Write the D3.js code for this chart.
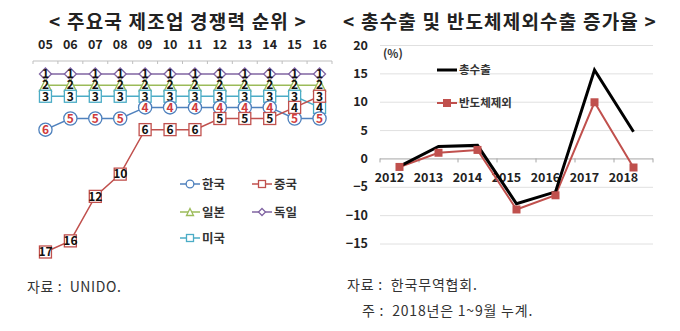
<!DOCTYPE html>
<html>
<head>
<meta charset="utf-8">
<script src="https://cdn.jsdelivr.net/npm/d3@7"></script>
<style>
  html, body { margin: 0; padding: 0; background: #fff; }
  svg { display: block; }
  text { font-family: "Noto Sans CJK KR", "Noto Sans", sans-serif; }
</style>
</head>
<body>
<svg id="chart" width="680" height="331"></svg>
<script>
// ---- Left panel: manufacturing competitiveness rank ----
const rankYears = ['05','06','07','08','09','10','11','12','13','14','15','16'];
const rankKorea   = [6,5,5,5,4,4,4,4,4,4,5,5];
const rankChina   = [17,16,12,10,6,6,6,5,5,5,4,3];
const rankJapan   = [2,2,2,2,2,2,2,2,2,2,2,2];
const rankGermany = [1,1,1,1,1,1,1,1,1,1,1,1];
const rankUSA     = [3,3,3,3,3,3,3,3,3,3,3,4];

// ---- Right panel: export growth rate (%) ----
const expYears = ['2012','2013','2014','2015','2016','2017','2018'];
const totalExport = [-1.4, 2.1, 2.3, -8.0, -5.9, 15.6, 4.7];
const exSemiconductor = [-1.5, 1.0, 1.5, -9.0, -6.5, 9.9, -1.6];
const yTicks = [20, 15, 10, 5, 0, -5, -10, -15];

const svg = d3.select('#chart');

// Titles
svg.append('text').attr('x', 178).attr('y', 29).attr('text-anchor', 'middle')
  .attr('font-size', 19).attr('font-weight', 700).attr('fill', '#222')
  .attr('letter-spacing', 1.2)
  .text('< 주요국 제조업 경쟁력 순위 >');
svg.append('text').attr('x', 500).attr('y', 29).attr('text-anchor', 'middle')
  .attr('font-size', 19).attr('font-weight', 700).attr('fill', '#222')
  .attr('letter-spacing', 1.2)
  .text('< 총수출 및 반도체제외수출 증가율 >');

// ================= Left panel =================
const xR = d3.scaleBand().domain(rankYears).range([33, 332]);
const yR = d3.scaleLinear().domain([1, 17]).range([74, 252]);
const cx = d => xR(d) + xR.bandwidth() / 2;

// top axis with year labels
const topAxis = svg.append('g').attr('transform', 'translate(0,61)');
topAxis.append('line').attr('x1', 33).attr('x2', 332).attr('stroke', '#bfbfbf');
topAxis.selectAll('line.tk').data(d3.range(rankYears.length + 1)).join('line')
  .attr('class', 'tk')
  .attr('x1', i => 33 + i * xR.step()).attr('x2', i => 33 + i * xR.step())
  .attr('y1', 0).attr('y2', 3).attr('stroke', '#bfbfbf');
svg.selectAll('text.yr').data(rankYears).join('text').attr('class', 'yr')
  .attr('x', d => cx(d)).attr('y', 49).attr('text-anchor', 'middle')
  .attr('font-size', 12.5).attr('font-weight', 700).attr('fill', '#222')
  .text(d => d);

const rankSeries = [
  { name: '독일', values: rankGermany, color: '#8064a2', shape: 'diamond', txt: '#111' },
  { name: '일본', values: rankJapan, color: '#9bbb59', shape: 'triangle', txt: '#111' },
  { name: '미국', values: rankUSA, color: '#4bacc6', shape: 'square', txt: '#111' },
  { name: '한국', values: rankKorea, color: '#4f81bd', shape: 'circle', txt: '#d03a3a' },
  { name: '중국', values: rankChina, color: '#c0504d', shape: 'square', txt: '#111' }
];

const rankLine = d3.line().x(d => cx(d.year)).y(d => yR(d.rank));

function drawMarker(g, shape, color, size) {
  const s = size;
  if (shape === 'circle') {
    g.append('circle').attr('r', s * 0.55).attr('fill', '#fff').attr('stroke', color).attr('stroke-width', 1.3);
  } else if (shape === 'square') {
    g.append('rect').attr('x', -s / 2).attr('y', -s / 2).attr('width', s).attr('height', s)
      .attr('fill', '#fff').attr('stroke', color).attr('stroke-width', 1.3);
  } else if (shape === 'diamond') {
    g.append('path').attr('d', `M0,${-s/2}L${s/2},0L0,${s/2}L${-s/2},0Z`)
      .attr('fill', '#fff').attr('stroke', color).attr('stroke-width', 1.3);
  } else if (shape === 'triangle') {
    g.append('path').attr('d', `M0,${-s/2}L${s/2},${s/2}L${-s/2},${s/2}Z`)
      .attr('fill', '#fff').attr('stroke', color).attr('stroke-width', 1.3);
  }
}

// lines first
rankSeries.forEach(s => {
  const pts = rankYears.map((y, i) => ({ year: y, rank: s.values[i] }));
  svg.append('path').datum(pts).attr('d', rankLine)
    .attr('fill', 'none').attr('stroke', s.color).attr('stroke-width', 1.5);
});
// markers and rank labels
rankSeries.forEach(s => {
  rankYears.forEach((y, i) => {
    const g = svg.append('g').attr('transform', `translate(${cx(y)},${yR(s.values[i])})`);
    drawMarker(g, s.shape, s.color, 12);
    g.append('text').attr('y', 4.3).attr('text-anchor', 'middle')
      .attr('font-size', 12).attr('font-weight', 700).attr('fill', s.txt)
      .attr('font-family', '"Liberation Sans", Arial, sans-serif')
      .text(s.values[i]);
  });
});

// legend
const legendItems = [
  { name: '한국', color: '#4f81bd', shape: 'circle', x: 180, y: 184 },
  { name: '중국', color: '#c0504d', shape: 'square', x: 252, y: 184 },
  { name: '일본', color: '#9bbb59', shape: 'triangle', x: 180, y: 212 },
  { name: '독일', color: '#8064a2', shape: 'diamond', x: 252, y: 212 },
  { name: '미국', color: '#4bacc6', shape: 'square', x: 180, y: 238 }
];
legendItems.forEach(l => {
  const g = svg.append('g').attr('transform', `translate(${l.x},${l.y})`);
  g.append('line').attr('x1', 0).attr('x2', 20).attr('stroke', l.color).attr('stroke-width', 1.5);
  const m = g.append('g').attr('transform', 'translate(10,0)');
  drawMarker(m, l.shape, l.color, 7);
  g.append('text').attr('x', 22).attr('y', 4.5).attr('font-size', 12.5).attr('font-weight', 700)
    .attr('fill', '#333').text(l.name);
});

svg.append('text').attr('x', 27).attr('y', 292).attr('font-size', 14).attr('fill', '#333')
  .attr('letter-spacing', 0.6).attr('xml:space', 'preserve')
  .text('자료 :  UNIDO.');

// ================= Right panel =================
const xE = d3.scaleBand().domain(expYears).range([380, 653]);
const yE = d3.scaleLinear().domain([-15, 20]).range([243.5, 45]);
const ex = d => xE(d) + xE.bandwidth() / 2;

const grid = svg.append('g').attr('transform', 'translate(380,0)')
  .call(d3.axisLeft(yE).tickValues(yTicks).tickSize(-273).tickPadding(12).tickFormat(d3.format('d')));
grid.select('.domain').remove();
grid.selectAll('.tick line').attr('stroke', d => d === 0 ? '#a6a6a6' : '#e0e0e0');
grid.selectAll('.tick text').attr('font-size', 12.5).attr('font-weight', 700).attr('fill', '#222')
  .attr('font-family', '"Noto Sans CJK KR", sans-serif');

// category ticks on the zero line
svg.selectAll('line.xtk').data(d3.range(expYears.length + 1)).join('line').attr('class', 'xtk')
  .attr('x1', i => 380 + i * xE.step()).attr('x2', i => 380 + i * xE.step())
  .attr('y1', yE(0)).attr('y2', yE(0) + 4).attr('stroke', '#a6a6a6');
svg.selectAll('text.xl').data(expYears).join('text').attr('class', 'xl')
  .attr('x', d => ex(d) - 10).attr('y', 182).attr('text-anchor', 'middle')
  .attr('font-size', 12.5).attr('font-weight', 700).attr('fill', '#222').text(d => d);

svg.append('text').attr('x', 383).attr('y', 58).attr('font-size', 11.5).attr('font-weight', 700)
  .attr('fill', '#333').text('(%)');

const expLine = d3.line().x(d => ex(d.year)).y(d => yE(d.v));
const redColor = '#c0504d';
svg.append('path').datum(expYears.map((y, i) => ({ year: y, v: exSemiconductor[i] })))
  .attr('d', expLine).attr('fill', 'none').attr('stroke', redColor).attr('stroke-width', 2);
svg.append('path').datum(expYears.map((y, i) => ({ year: y, v: totalExport[i] })))
  .attr('d', expLine).attr('fill', 'none').attr('stroke', '#000').attr('stroke-width', 3);
svg.selectAll('rect.pt').data(expYears).join('rect').attr('class', 'pt')
  .attr('x', d => ex(d) - 4).attr('y', (d, i) => yE(exSemiconductor[i]) - 4)
  .attr('width', 8).attr('height', 8).attr('fill', redColor);

// legend
svg.append('line').attr('x1', 437).attr('x2', 457).attr('y1', 70).attr('y2', 70)
  .attr('stroke', '#000').attr('stroke-width', 3);
svg.append('text').attr('x', 459).attr('y', 74).attr('font-size', 11.5).attr('font-weight', 700)
  .attr('fill', '#333').text('총수출');
svg.append('line').attr('x1', 437).attr('x2', 457).attr('y1', 103).attr('y2', 103)
  .attr('stroke', redColor).attr('stroke-width', 2);
svg.append('rect').attr('x', 443).attr('y', 99).attr('width', 8).attr('height', 8).attr('fill', redColor);
svg.append('text').attr('x', 459).attr('y', 107).attr('font-size', 11.5).attr('font-weight', 700)
  .attr('fill', '#333').text('반도체제외');

svg.append('text').attr('x', 347).attr('y', 290).attr('font-size', 14).attr('fill', '#333')
  .attr('letter-spacing', 0.8).attr('xml:space', 'preserve')
  .text('자료 :  한국무역협회.');
svg.append('text').attr('x', 362).attr('y', 316).attr('font-size', 14).attr('fill', '#333')
  .attr('letter-spacing', 0.8).attr('xml:space', 'preserve')
  .text('주 :  2018년은 1~9월 누계.');
</script>
</body>
</html>
